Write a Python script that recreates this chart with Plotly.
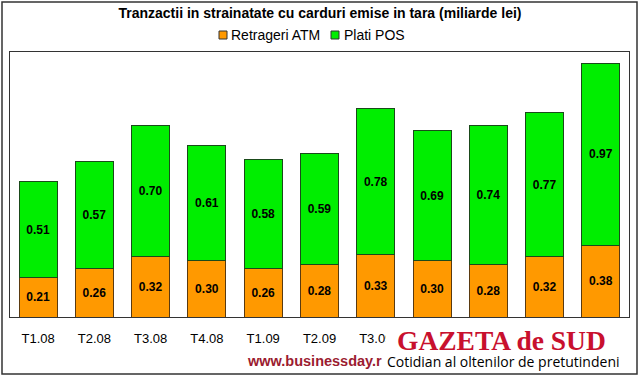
import plotly.graph_objects as go

categories = ["T1.08", "T2.08", "T3.08", "T4.08", "T1.09", "T2.09", "T3.09", "T4.09", "T1.10", "T2.10", "T3.10"]
atm = [0.21, 0.26, 0.32, 0.30, 0.26, 0.28, 0.33, 0.30, 0.28, 0.32, 0.38]
pos = [0.51, 0.57, 0.70, 0.61, 0.58, 0.59, 0.78, 0.69, 0.74, 0.77, 0.97]
series_names = ["Retrageri ATM", "Plati POS"]
series_colors = ["#FF9900", "#00EE00"]

W, H = 640, 376
L, R, T, B = 10, 629, 52, 317

def px(x):
    return (x - L) / (R - L)

def py(y):
    return (B - y) / (B - T)

fig = go.Figure()
for vals, name, col, lc in [(atm, series_names[0], series_colors[0], "#5a3a10"),
                            (pos, series_names[1], series_colors[1], "#1a4a1a")]:
    fig.add_trace(go.Bar(
        x=categories, y=vals, name=name,
        marker=dict(color=col, line=dict(color=lc, width=1)),
        text=[f"{v:.2f}" for v in vals], textposition="inside", insidetextanchor="middle",
        textfont=dict(family="Liberation Sans, Arial", size=12, color="black", weight="bold"),
        constraintext="none", showlegend=False, hoverinfo="skip",
    ))

fig.update_layout(
    width=W, height=H,
    barmode="stack", bargap=0.325,
    margin=dict(l=L, r=W - R, t=T, b=H - B),
    paper_bgcolor="white", plot_bgcolor="white",
    font=dict(family="Liberation Sans, Arial", size=12, color="black"),
    title=dict(text="<b>Tranzactii in strainatate cu carduri emise in tara (miliarde lei)</b>",
               x=0.5, xanchor="center", y=1 - 13.5 / H, yanchor="middle",
               font=dict(size=14, color="black")),
    xaxis=dict(showline=True, mirror=True, linecolor="#333", linewidth=1,
               ticks="", showgrid=False, ticklabelstandoff=9,
               tickfont=dict(size=13, color="black")),
    yaxis=dict(range=[0, 1.41], showline=True, mirror=True, linecolor="#333", linewidth=1,
               showticklabels=False, ticks="", showgrid=False, zeroline=False),
)

shapes = [
    dict(type="rect", xref="paper", yref="paper",
         x0=px(2), x1=px(637), y0=py(374), y1=py(2),
         line=dict(color="#333", width=1.5), fillcolor="rgba(0,0,0,0)", layer="above"),
    dict(type="rect", xref="paper", yref="paper",
         x0=px(386), x1=px(634), y0=py(371), y1=py(326),
         line=dict(width=0), fillcolor="white", layer="above"),
]
# manual legend
leg_x = [219, 331]
text_x = [229, 342]
for i in range(2):
    shapes.append(dict(type="rect", xref="paper", yref="paper",
                       x0=px(leg_x[i]), x1=px(leg_x[i] + 8), y0=py(39), y1=py(31),
                       line=dict(color="#333", width=1), fillcolor=series_colors[i], layer="above"))
    fig.add_annotation(xref="paper", yref="paper", x=px(text_x[i]), y=py(35),
                       xanchor="left", yanchor="middle", text=series_names[i], showarrow=False,
                       font=dict(family="Liberation Sans, Arial", size=14, color="black"))
fig.update_layout(shapes=shapes)

fig.add_annotation(xref="paper", yref="paper", x=px(395), y=py(340), xanchor="left", yanchor="middle",
                   text="<b>GAZETA de SUD</b>", showarrow=False,
                   font=dict(family="Liberation Serif, DejaVu Serif", size=27.5, color="#C8102E"))
fig.add_annotation(xref="paper", yref="paper", x=px(384), y=py(361), xanchor="right", yanchor="middle",
                   text="<b>www.businessday.r</b>", showarrow=False,
                   font=dict(family="Liberation Sans, Arial", size=14.5, color="#9B1B30"))
fig.add_annotation(xref="paper", yref="paper", x=px(385), y=py(361), xanchor="left", yanchor="middle",
                   text="Cotidian al oltenilor de pretutindeni", showarrow=False,
                   font=dict(family="Open Sans", size=14, color="black"))

fig.write_html("out.html", config={"displayModeBar": False, "staticPlot": True},
               post_script="document.body.style.margin='0';document.body.style.padding='0';")
